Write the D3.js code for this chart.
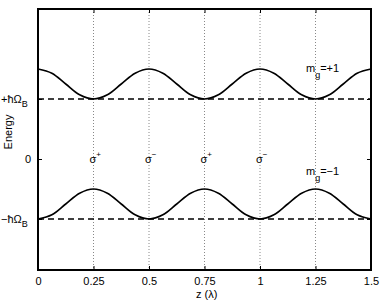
<!DOCTYPE html>
<html>
<head>
<meta charset="utf-8">
<style>
    body { margin: 0; background: #fff; }
    svg { display: block; font-family: 'Liberation Sans', Arial, sans-serif; }
    .tick text { font-size: 11px; fill: #000; }
    .lbl { font-size: 11px; fill: #000; }
</style>
</head>
<body>
<svg width="382" height="301"></svg>
<script src="https://d3js.org/d3.v7.min.js"></script>
<script>
    // positions along z (in lambda), read every 1/16 lambda
    let zs = [0, 0.0625, 0.125, 0.1875, 0.25, 0.3125, 0.375, 0.4375, 0.5,
        0.5625, 0.625, 0.6875, 0.75, 0.8125, 0.875, 0.9375, 1,
        1.0625, 1.125, 1.1875, 1.25, 1.3125, 1.375, 1.4375, 1.5]
    // m_g = +1 level (units of hbar Omega_B)
    let upper = [1.5, 1.43, 1.25, 1.07, 1.0, 1.07, 1.25, 1.43, 1.5,
        1.43, 1.25, 1.07, 1.0, 1.07, 1.25, 1.43, 1.5,
        1.43, 1.25, 1.07, 1.0, 1.07, 1.25, 1.43, 1.5]
    // m_g = -1 level
    let lower = [-1.0, -0.93, -0.75, -0.57, -0.5, -0.57, -0.75, -0.93, -1.0,
        -0.93, -0.75, -0.57, -0.5, -0.57, -0.75, -0.93, -1.0,
        -0.93, -0.75, -0.57, -0.5, -0.57, -0.75, -0.93, -1.0]
    let baseLevels = [1, -1]
    let xTicks = [0, 0.25, 0.5, 0.75, 1, 1.25, 1.5]
    let xTickLabels = ["0", "0.25", "0.5", "0.75", "1", "1.25", "1.5"]
    let yTicks = [-1, 0, 1]
    let gridZ = [0.25, 0.5, 0.75, 1, 1.25]
    let polLabels = ["+", "\u2212", "+", "\u2212"]
    let polZ = [0.25, 0.5, 0.75, 1]

    let margin = { top: 9, right: 11, bottom: 31, left: 38 }
    let width = 382, height = 301

    let svg = d3.select("svg")

    let x = d3.scaleLinear()
        .domain([0, 1.5])
        .range([margin.left, width - margin.right])

    let y = d3.scaleLinear()
        .domain([-1.85, 2.5])
        .range([height - margin.bottom, margin.top])

    // dotted grid lines
    svg.append("g")
        .selectAll("line")
        .data(gridZ)
        .join("line")
        .attr("x1", d => x(d)).attr("x2", d => x(d))
        .attr("y1", y.range()[1]).attr("y2", y.range()[0])
        .attr("stroke", "#888")
        .attr("stroke-width", 1)
        .attr("stroke-dasharray", "1,2")

    // dashed base levels
    svg.append("g")
        .selectAll("line")
        .data(baseLevels)
        .join("line")
        .attr("x1", x(0)).attr("x2", x(1.5))
        .attr("y1", d => y(d)).attr("y2", d => y(d))
        .attr("stroke", "#000")
        .attr("stroke-width", 1.5)
        .attr("stroke-dasharray", "6,4")

    // curves
    let line = d3.line()
        .x((d, i) => x(zs[i]))
        .y(d => y(d))
        .curve(d3.curveCatmullRom)

    svg.append("g")
        .selectAll("path")
        .data([upper, lower])
        .join("path")
        .attr("d", line)
        .attr("fill", "none")
        .attr("stroke", "#000")
        .attr("stroke-width", 1.6)

    // axes (ticks pointing inward)
    let xAxis = svg.append("g")
        .attr("transform", `translate(0,${y.range()[0]})`)
        .call(d3.axisBottom(x).tickValues(xTicks).tickSizeInner(-4).tickSizeOuter(0)
            .tickPadding(7).tickFormat((d, i) => xTickLabels[i]))
    xAxis.select(".domain").remove()

    let xTop = svg.append("g")
        .attr("transform", `translate(0,${y.range()[1]})`)
        .call(d3.axisTop(x).tickValues(xTicks).tickSizeInner(-4).tickSizeOuter(0).tickFormat(""))
    xTop.select(".domain").remove()

    let yAxis = svg.append("g")
        .attr("transform", `translate(${x.range()[0]},0)`)
        .call(d3.axisLeft(y).tickValues(yTicks).tickSizeInner(-4).tickSizeOuter(0).tickFormat(""))
    yAxis.select(".domain").remove()

    let yRight = svg.append("g")
        .attr("transform", `translate(${x.range()[1]},0)`)
        .call(d3.axisRight(y).tickValues(yTicks).tickSizeInner(-4).tickSizeOuter(0).tickFormat(""))
    yRight.select(".domain").remove()

    svg.selectAll(".tick line").attr("stroke", "#000").attr("stroke-width", 1)

    // box
    svg.append("rect")
        .attr("x", x.range()[0]).attr("y", y.range()[1])
        .attr("width", x.range()[1] - x.range()[0])
        .attr("height", y.range()[0] - y.range()[1])
        .attr("fill", "none")
        .attr("stroke", "#000")
        .attr("stroke-width", 2)

    // y labels
    let ylab = svg.append("g").attr("class", "lbl")
    let plus = ylab.append("text").attr("class", "lbl")
        .attr("x", 1).attr("y", y(1) + 4)
    plus.append("tspan").text("+\u0127\u03A9")
    plus.append("tspan").attr("dy", 4).style("font-size", "9px").text("B")

    let minus = ylab.append("text").attr("class", "lbl")
        .attr("x", 1).attr("y", y(-1) + 4)
    minus.append("tspan").text("\u2212\u0127\u03A9")
    minus.append("tspan").attr("dy", 4).style("font-size", "9px").text("B")

    ylab.append("text").attr("class", "lbl")
        .attr("x", 31).attr("y", y(0) + 4)
        .attr("text-anchor", "end")
        .text("0")

    svg.append("text").attr("class", "lbl")
        .attr("transform", `translate(12,${y(0.45)}) rotate(-90)`)
        .attr("text-anchor", "middle")
        .text("Energy")

    // x label
    svg.append("text").attr("class", "lbl")
        .attr("x", x(0.76)).attr("y", 298)
        .attr("text-anchor", "middle")
        .text("z (\u03BB)")

    // polarisation labels
    polZ.forEach((z, i) => {
        let t = svg.append("text").attr("class", "lbl")
            .attr("x", x(z) - 4).attr("y", y(0) + 4)
        t.append("tspan").text("\u03C3")
        t.append("tspan").attr("dy", -6).style("font-size", "8px").text(polLabels[i])
    })

    // m_g labels
    let mLabels = [["=+1", 1.5, 3], ["=\u22121", -0.5, -14]]
    mLabels.forEach(d => {
        let t = svg.append("text").attr("class", "lbl")
            .attr("x", x(1.207)).attr("y", y(d[1]) + d[2])
        t.append("tspan").text("m")
        t.append("tspan").attr("dy", 6).style("font-size", "9px").text("g")
        t.append("tspan").attr("dy", -6).text(d[0])
    })
</script>
</body>
</html>
